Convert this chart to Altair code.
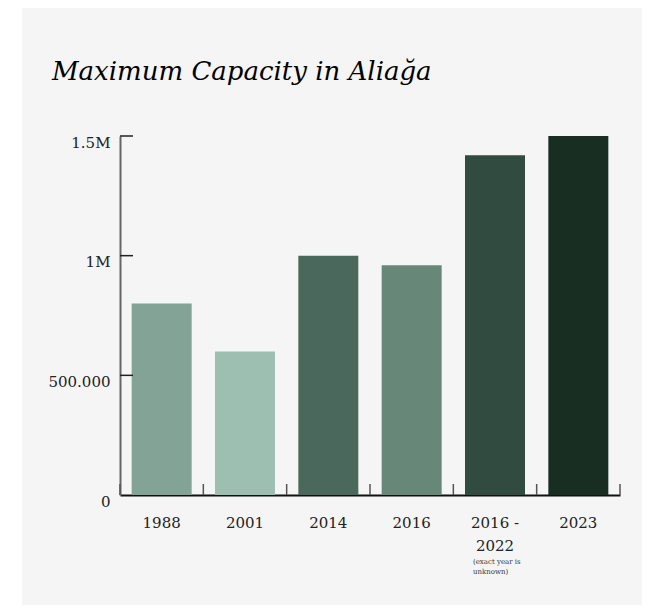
import altair as alt
import pandas as pd

title_text = "Maximum Capacity in Aliağa"
categories = ["1988", "2001", "2014", "2016", "2016 - 2022", "2023"]
values = [800000, 600000, 1000000, 960000, 1420000, 1500000]
colors = ["#82a395", "#9cbfb2", "#4b685c", "#678779", "#324b41", "#182e23"]
y_tick_values = [0, 500000, 1000000, 1500000]
y_tick_labels = ["0", "500.000", "1M", "1.5M"]
note_category = "2016 - 2022"
note_lines = ["(exact year is", "unknown)"]

FONT = "DejaVu Serif"
W, H = 500, 359
STEP = W / len(categories)
HALF_GAP = STEP * 0.14

df = pd.DataFrame({"cat": categories, "value": values})
ticks_df = pd.DataFrame({"v": y_tick_values[1:]})
note_df = pd.DataFrame({"cat": [note_category], "note": [note_lines]})
last_df = pd.DataFrame({"cat": [categories[-1]]})
title_df = pd.DataFrame({"t": [title_text]})

label_expr = " : ".join(
    f"datum.value == {v} ? '{l}'" for v, l in zip(y_tick_values, y_tick_labels)
) + " : ''"

x_scale = alt.Scale(domain=categories, paddingInner=0.28, paddingOuter=0.14)
y_scale = alt.Scale(domain=[0, 1500000], nice=False)

# white strip at the page's left edge (reference panel starts at x=22)
strip = alt.Chart(last_df).mark_rect(color="white").encode(
    x=alt.value(-112), x2=alt.value(-98), y=alt.value(-128), y2=alt.value(H + 110)
)

title = alt.Chart(title_df).mark_text(
    font=FONT, fontSize=26, fontStyle="italic", color="#000000",
    align="left", baseline="alphabetic",
).encode(x=alt.value(-68), y=alt.value(-56), text="t:N")

bars = alt.Chart(df).mark_bar().encode(
    x=alt.X(
        "cat:N",
        scale=x_scale,
        sort=categories,
        title=None,
        axis=alt.Axis(
            labelAngle=0,
            labelFont=FONT,
            labelFontSize=15,
            labelColor="#222222",
            labelBaseline="top",
            labelPadding=20,
            labelLineHeight=23,
            labelExpr="datum.label == '2016 - 2022' ? ['2016 -', '2022'] : datum.label",
            ticks=False,
            domainColor="#111111",
            domainWidth=2,
        ),
    ),
    y=alt.Y(
        "value:Q",
        scale=y_scale,
        title=None,
        axis=alt.Axis(
            values=y_tick_values,
            labelExpr=label_expr,
            labelFont=FONT,
            labelFontSize=15,
            labelColor="#222222",
            labelBaseline="top",
            labelPadding=10,
            labelOffset=-1,
            ticks=False,
            grid=False,
            domainColor="#666666",
            domainWidth=2,
        ),
    ),
    color=alt.Color("cat:N", scale=alt.Scale(domain=categories, range=colors), legend=None),
)

y_ticks = alt.Chart(ticks_df).mark_rule(color="#222222", strokeWidth=1.5).encode(
    y=alt.Y("v:Q", scale=y_scale),
    x=alt.value(0),
    x2=alt.value(13),
)

x_ticks = alt.Chart(df).mark_rule(color="#555555", strokeWidth=1.5, xOffset=-HALF_GAP).encode(
    x=alt.X("cat:N", scale=x_scale, sort=categories, bandPosition=0),
    y=alt.value(H - 11),
    y2=alt.value(H),
)

x_tick_end = alt.Chart(last_df).mark_rule(color="#555555", strokeWidth=1.5, xOffset=HALF_GAP).encode(
    x=alt.X("cat:N", scale=x_scale, sort=categories, bandPosition=1),
    y=alt.value(H - 11),
    y2=alt.value(H),
)

note = alt.Chart(note_df).mark_text(
    font=FONT, fontSize=7, color="#333333", align="left", baseline="top",
    lineHeight=10, dx=-22,
).encode(
    x=alt.X("cat:N", scale=x_scale, sort=categories),
    y=alt.value(H + 63),
    text="note",
)

chart = alt.layer(strip, title, bars, y_ticks, x_ticks, x_tick_end, note).properties(
    width=W,
    height=H,
    background="#f5f5f5",
    padding={"left": 112, "top": 128, "right": 22, "bottom": 110},
    autosize=alt.AutoSizeParams(type="none"),
).configure_view(stroke=None)

chart.save("out.html", embed_options={"renderer": "svg", "actions": False})
